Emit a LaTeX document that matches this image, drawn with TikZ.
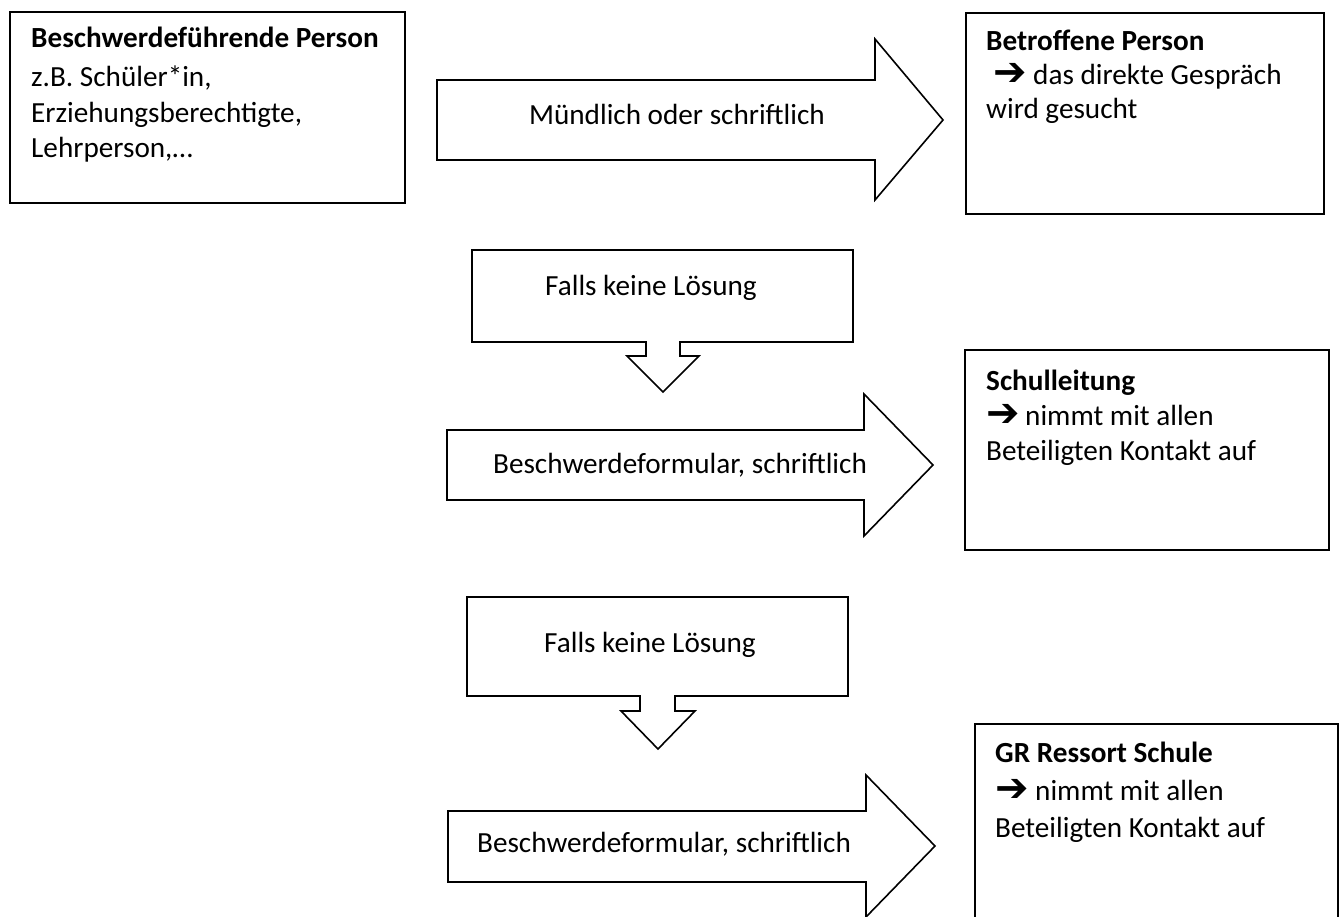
\documentclass[tikz,border=0pt]{standalone}
\usepackage{fontspec}
\setmainfont{Carlito}
\newfontfamily\symfont{DejaVu Sans}
\tikzset{
  frame/.style={draw, line width=2pt, anchor=north west, inner sep=0pt, fill=white},
  blk/.style={draw, line width=1.6pt, line join=miter, fill=white},
  txt/.style={inner sep=0pt, anchor=base west, font=\fontsize{29.2}{33}\selectfont},
  btxt/.style={inner sep=0pt, anchor=base west, font=\fontsize{29.2}{33}\selectfont\bfseries},
  arr/.style={inner sep=0pt, anchor=base west, font=\fontsize{40}{40}\symfont\bfseries},
  lbl/.style={inner sep=0pt, anchor=base, font=\fontsize{29.2}{33}\selectfont},
}
\begin{document}
\begin{tikzpicture}[x=1pt,y=-1pt]
\useasboundingbox (0,0) rectangle (1341,917);

% boxes
\node[frame, minimum width=395pt, minimum height=191pt] (b1) at (9,11) {};
\node[frame, minimum width=358pt, minimum height=201pt] (b2) at (965,12) {};
\node[frame, minimum width=364pt, minimum height=200pt] (b3) at (964,349) {};
\node[frame, minimum width=363pt, minimum height=230pt] (b4) at (974,723) {};

% block arrow 1
\draw[blk] (437,80) -- (875,80) -- (875,39) -- (943,120) -- (875,200) -- (875,160) -- (437,160) -- cycle;
\node[lbl] (l1) at (677,125) {Mündlich oder schriftlich};

% callout 1
\draw[blk] (472,250) -- (853,250) -- (853,342) -- (680,342) -- (680,356) -- (699,356) -- (663,392) -- (627,356) -- (646,356) -- (646,342) -- (472,342) -- cycle;
\node[lbl] (c1) at (651,296) {Falls keine Lösung};

% block arrow 2
\draw[blk] (447,430) -- (864,430) -- (864,394) -- (933,465) -- (864,536) -- (864,500) -- (447,500) -- cycle;
\node[lbl] (l2) at (680,473) {Beschwerdeformular, schriftlich};

% callout 2
\draw[blk] (467,597) -- (848,597) -- (848,696) -- (675,696) -- (675,711) -- (695,711) -- (658,749) -- (621,711) -- (640,711) -- (640,696) -- (467,696) -- cycle;
\node[lbl] (c2) at (650,652) {Falls keine Lösung};

% block arrow 3
\draw[blk] (448,811) -- (866,811) -- (866,775) -- (935,846) -- (866,917) -- (866,882) -- (448,882) -- cycle;
\node[lbl] (l3) at (664,852) {Beschwerdeformular, schriftlich};

% box 1 text
\node[btxt] (t11) at (31,48) {Beschwerdeführende Person};
\node[txt] (t12) at (31,87) {z.B. Schüler*in,};
\node[txt] (t13) at (31,123) {Erziehungsberechtigte,};
\node[txt] (t14) at (31,158) {Lehrperson,…};

% box 2 text
\node[btxt] (t21) at (986,50.5) {Betroffene Person};
\node[arr] (a2) at (993,86) {➔};
\node[txt] (t22) at (1033,84.5) {das direkte Gespräch};
\node[txt] (t23) at (986,118.5) {wird gesucht};

% box 3 text
\node[btxt] (t31) at (986,390) {Schulleitung};
\node[arr] (a3) at (986,426.5) {➔};
\node[txt] (t32) at (1025,425) {nimmt mit allen};
\node[txt] (t33) at (986,460) {Beteiligten Kontakt auf};

% box 4 text
\node[btxt] (t41) at (995,762) {GR Ressort Schule};
\node[arr] (a4) at (995,801.5) {➔};
\node[txt] (t42) at (1035,800) {nimmt mit allen};
\node[txt] (t43) at (995,837) {Beteiligten Kontakt auf};
\end{tikzpicture}
\end{document}
